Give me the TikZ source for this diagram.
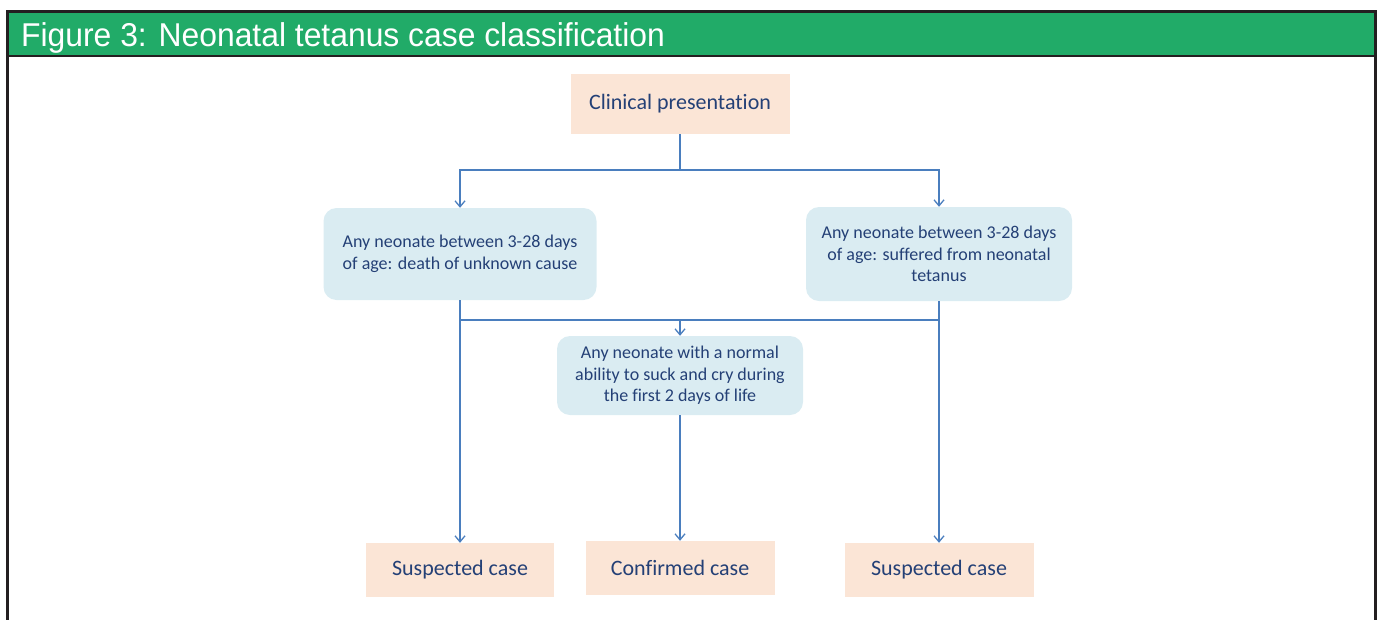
\documentclass[tikz,border=0pt]{standalone}
\usepackage{fontspec}
\setmainfont{Carlito}[Ligatures=NoCommon]
\newfontfamily\headfont{Liberation Sans}[FakeStretch=0.965]
\usetikzlibrary{arrows.meta}

\definecolor{framegray}{RGB}{35,31,32}
\definecolor{headgreen}{RGB}{33,171,104}
\definecolor{peach}{RGB}{251,229,214}
\definecolor{paleblue}{RGB}{218,236,242}
\definecolor{textblue}{RGB}{36,64,118}
\definecolor{linkblue}{RGB}{74,126,190}

\tikzset{
  peachbox/.style={fill=peach, draw=none, text=textblue, inner sep=0pt,
    font=\fontsize{22}{26}\selectfont},
  bluebox/.style={fill=paleblue, draw=none, rounded corners=13pt, text=textblue,
    align=center, inner sep=0pt, font=\fontsize{18}{21.5}\selectfont},
  link/.style={draw=linkblue, line width=1.5pt},
  arrowlink/.style={link, -{Straight Barb[length=6pt,width=10pt,line width=1.3pt]}}
}

\begin{document}
\begin{tikzpicture}[x=1pt, y=-1pt]
  \useasboundingbox (0,0) rectangle (1381,619);

  % outer frame, open at the bottom, with the green title band
  \fill[headgreen] (7.5,11.5) rectangle (1375.5,56);
  \draw[framegray, line width=3pt] (7.5,625) -- (7.5,11.5) -- (1375.5,11.5) -- (1375.5,625);
  \draw[framegray, line width=2.5pt] (7.5,56) -- (1375.5,56);
  \node[anchor=base west, text=white, inner sep=0pt,
        font=\headfont\fontsize{33}{36}\selectfont] (title) at (21,46.5)
        {Figure 3: Neonatal tetanus case classification};

  % boxes
  \node[peachbox, minimum width=219pt, minimum height=60pt] (cp) at (680,104)
    {Clinical presentation};
  \node[bluebox, minimum width=273pt, minimum height=92pt] (lb) at (460,254)
    {Any neonate between 3-28 days\\of age: death of unknown cause};
  \node[bluebox, minimum width=266pt, minimum height=94pt] (rb) at (939,254)
    {Any neonate between 3-28 days\\of age: suffered from neonatal\\tetanus};
  \node[bluebox, minimum width=246pt, minimum height=79pt] (mb) at (680,375.5)
    {Any neonate with a normal\\ability to suck and cry during\\the first 2 days of life};
  \node[peachbox, minimum width=188pt, minimum height=54pt] (sl) at (460,570)
    {Suspected case};
  \node[peachbox, minimum width=189pt, minimum height=54pt] (cf) at (680,568)
    {Confirmed case};
  \node[peachbox, minimum width=189pt, minimum height=54pt] (sr) at (939,570)
    {Suspected case};

  % junction points
  \coordinate (split) at (680,170);
  \coordinate (join) at (680,320);

  % connectors
  \draw[link] (cp.south) -- (split);
  \draw[arrowlink] (split) -| (lb.north);
  \draw[arrowlink] (split) -| (rb.north);
  \draw[link] (lb.south |- join) -- (rb.south |- join);
  \draw[arrowlink] (join) -- (mb.north);
  \draw[arrowlink] (lb.south) -- (sl.north);
  \draw[arrowlink] (rb.south) -- (sr.north);
  \draw[arrowlink] (mb.south) -- (cf.north);
\end{tikzpicture}
\end{document}
